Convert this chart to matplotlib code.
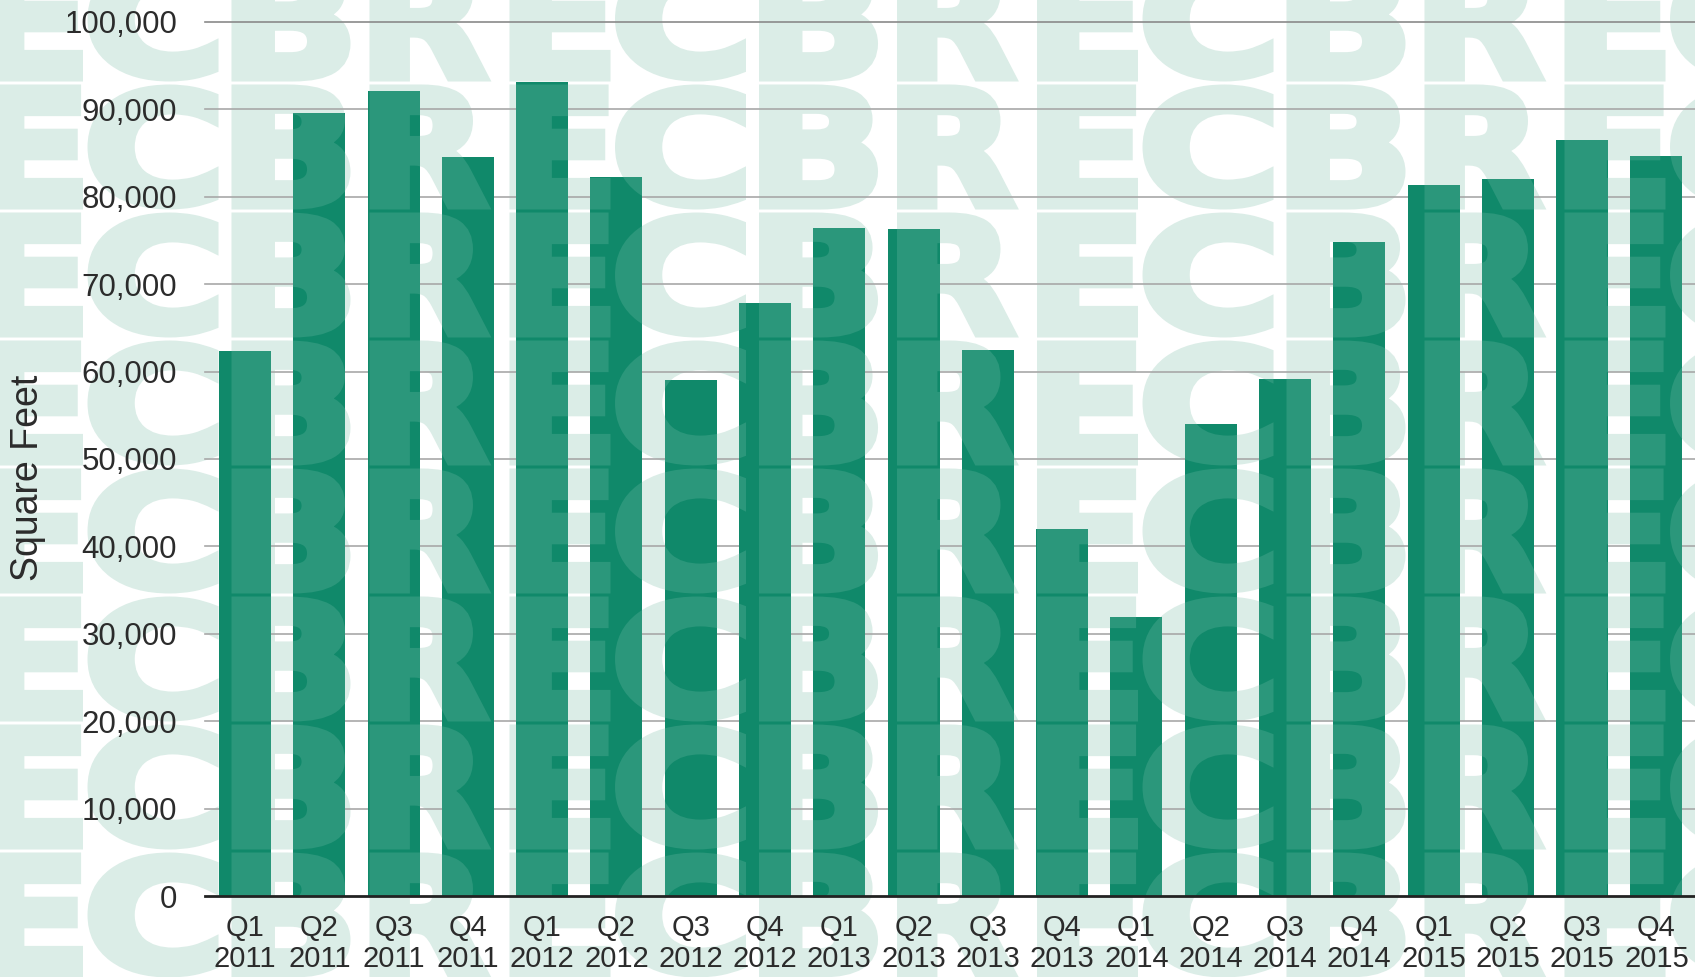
import matplotlib
matplotlib.use("Agg")
import matplotlib.pyplot as plt
from matplotlib.textpath import TextPath
from matplotlib.font_manager import FontProperties
from matplotlib.patches import PathPatch
from matplotlib.path import Path
from matplotlib.transforms import Affine2D

plt.rcParams['font.family'] = ['Liberation Sans', 'DejaVu Sans']

# data
quarters = ["Q1", "Q2", "Q3", "Q4"] * 5
years = ["2011"] * 4 + ["2012"] * 4 + ["2013"] * 4 + ["2014"] * 4 + ["2015"] * 4
sq_feet = [62300, 89600, 92100, 84500, 93100, 82300, 59000, 67900, 76400, 76300,
           62500, 42000, 31900, 54000, 59200, 74800, 81300, 82000, 86500, 84700]
yticks = list(range(0, 100001, 10000))

W, H = 1695, 977
fig = plt.figure(figsize=(W / 100, H / 100), dpi=100)
ax = fig.add_axes([205 / W, 81 / H, 1 - 205 / W, 874 / H])

x = list(range(len(sq_feet)))
bars = ax.bar(x, sq_feet, width=0.7, color="#10896a", zorder=1)

# grid lines behind bars
for v in yticks[1:]:
    ax.axhline(v, color="#a8a8a8" if v < 100000 else "#8a8a8a", lw=1.2, zorder=0.5, clip_on=False)

ax.set_xlim(-0.54, 19.52)
ax.set_ylim(0, 100000)
ax.set_yticks(yticks)
ax.set_yticklabels(["{:,}".format(v) for v in yticks])
ax.set_xticks(x)
ax.set_xticklabels([q + "\n" + y for q, y in zip(quarters, years)], linespacing=1.12)
ax.tick_params(axis="both", length=0, labelcolor="#2b2b2b")
ax.tick_params(axis="y", pad=20, labelsize=22.5)
ax.tick_params(axis="x", pad=13, labelsize=21)
for s in ["top", "right", "left"]:
    ax.spines[s].set_visible(False)
ax.spines["bottom"].set_color("#222222")
ax.spines["bottom"].set_linewidth(2)
ax.set_axisbelow(False)
ax.patch.set_alpha(0)

fig.text(28 / W, 1 - 478 / H, "Square Feet", rotation=90, ha="center", va="center",
         fontsize=27, color="#2b2b2b")

# CBRE watermark tiled over the figure (pale on white, lighter green on the bars)
fp = FontProperties(family="DejaVu Sans", weight="bold")
period = 527.5
offsets = {"C": (0, 122), "B": (138, 110), "R": (276, 110), "E": (407, 92)}
lh = 128
thick = 9  # extra stroke in pixels to make the letters heavier
paths = []
for k in range(-1, 4):
    for ch, (dx, w) in offsets.items():
        cx = 153 + k * period + dx
        if cx + w / 2 < -20 or cx - w / 2 > W + 20:
            continue
        for top in range(83 - 2 * lh, H + lh, lh):
            tp = TextPath((0, 0), ch, size=100, prop=fp)
            bb = tp.get_extents()
            hh = lh - thick - 3
            tr = (Affine2D().translate(-bb.x0, -bb.y0)
                  .scale(w / bb.width, hh / bb.height)
                  .translate(cx - w / 2, H - top - lh + (lh - hh) / 2)
                  .scale(1 / W, 1 / H))
            paths.append(tr.transform_path(tp))
mark_path = Path.make_compound_path(*paths)

pale = PathPatch(mark_path, transform=fig.transFigure, facecolor="#dbede7",
                 edgecolor="#dbede7", linewidth=thick * 0.72, zorder=0.3)
ax.add_artist(pale)
pale.set_clip_on(False)

for b in bars:
    over = PathPatch(mark_path, transform=fig.transFigure, facecolor="#2b977b",
                     edgecolor="#2b977b", linewidth=thick * 0.72, zorder=1.5)
    ax.add_artist(over)
    over.set_clip_path(b)

fig.savefig("out.png", dpi=100)
